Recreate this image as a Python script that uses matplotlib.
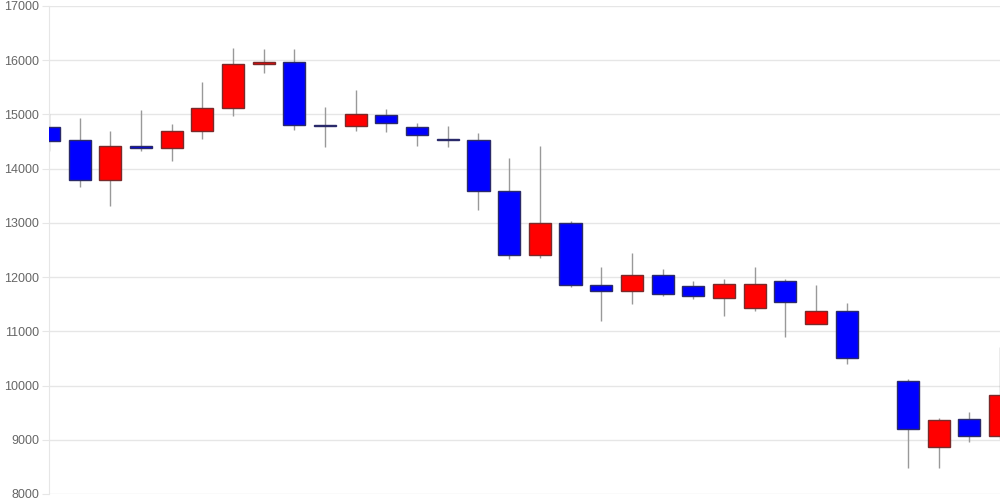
import matplotlib
matplotlib.use("Agg")
import matplotlib.pyplot as plt
import numpy as np

plt.rcParams["font.family"] = ["Liberation Sans", "DejaVu Sans"]

# daily candles, slot 27 has no data (gap)
slots = [0, 1, 2, 3, 4, 5, 6, 7, 8, 9, 10, 11, 12, 13, 14, 15,
         16, 17, 18, 19, 20, 21, 22, 23, 24, 25, 26, 28, 29, 30, 31]
opens = [14770, 14520, 13800, 14410, 14380, 14690, 15125, 15930, 15960, 14810,
         14780, 14990, 14760, 14540, 14520, 13590, 12400, 13000, 11850, 11750,
         12030, 11830, 11610, 11425, 11935, 11130, 11375, 10080, 8875, 9380, 9070]
closes = [14510, 13790, 14420, 14390, 14690, 15125, 15925, 15960, 14810, 14790,
          15000, 14840, 14620, 14530, 13590, 12400, 13000, 11850, 11750, 12030,
          11690, 11650, 11870, 11870, 11540, 11375, 10515, 9190, 9360, 9065, 9820]
highs = [15000, 14930, 14700, 15080, 14820, 15600, 16225, 16210, 16200, 15140,
         15450, 15100, 14840, 14790, 14660, 14200, 14425, 13030, 12190, 12440,
         12150, 11935, 11960, 12180, 11965, 11855, 11520, 10120, 9395, 9510, 10705]
lows = [14330, 13670, 13320, 14330, 14150, 14550, 14970, 15770, 14710, 14400,
        14700, 14680, 14420, 14400, 13230, 12330, 12360, 11810, 11190, 11500,
        11660, 11590, 11280, 11380, 10900, 11130, 10400, 8485, 8485, 8965, 9015]

yticks = [8000, 9000, 10000, 11000, 12000, 13000, 14000, 15000, 16000, 17000]

fig = plt.figure(figsize=(10, 5), dpi=100)
ax = fig.add_axes([0.049, 0.012, 0.951, 0.976])

width = 0.72
for x, o, c, h, l in zip(slots, opens, closes, highs, lows):
    up = c >= o
    face = "#ff0000" if up else "#0000ff"
    edge = "#7a2a2a" if up else "#2a2a6a"
    ax.vlines(x, l, h, color="#999999", linewidth=1, zorder=2)
    body = max(abs(c - o), 15)
    ax.bar(x, body, bottom=min(o, c), width=width, color=face,
           edgecolor=edge, linewidth=1, zorder=3)

ax.set_xlim(0, 31)
ax.set_ylim(8000, 17000)
ax.set_yticks(yticks)
ax.set_xticks([])
ax.grid(axis="y", color="#e6e6e6", linewidth=1, zorder=0)
for s in ["top", "right", "bottom"]:
    ax.spines[s].set_visible(False)
ax.spines["left"].set_color("#e6e6e6")
ax.tick_params(axis="y", colors="#e6e6e6", labelcolor="#666666",
               labelsize=9, length=5, pad=2)

fig.savefig("out.png")
